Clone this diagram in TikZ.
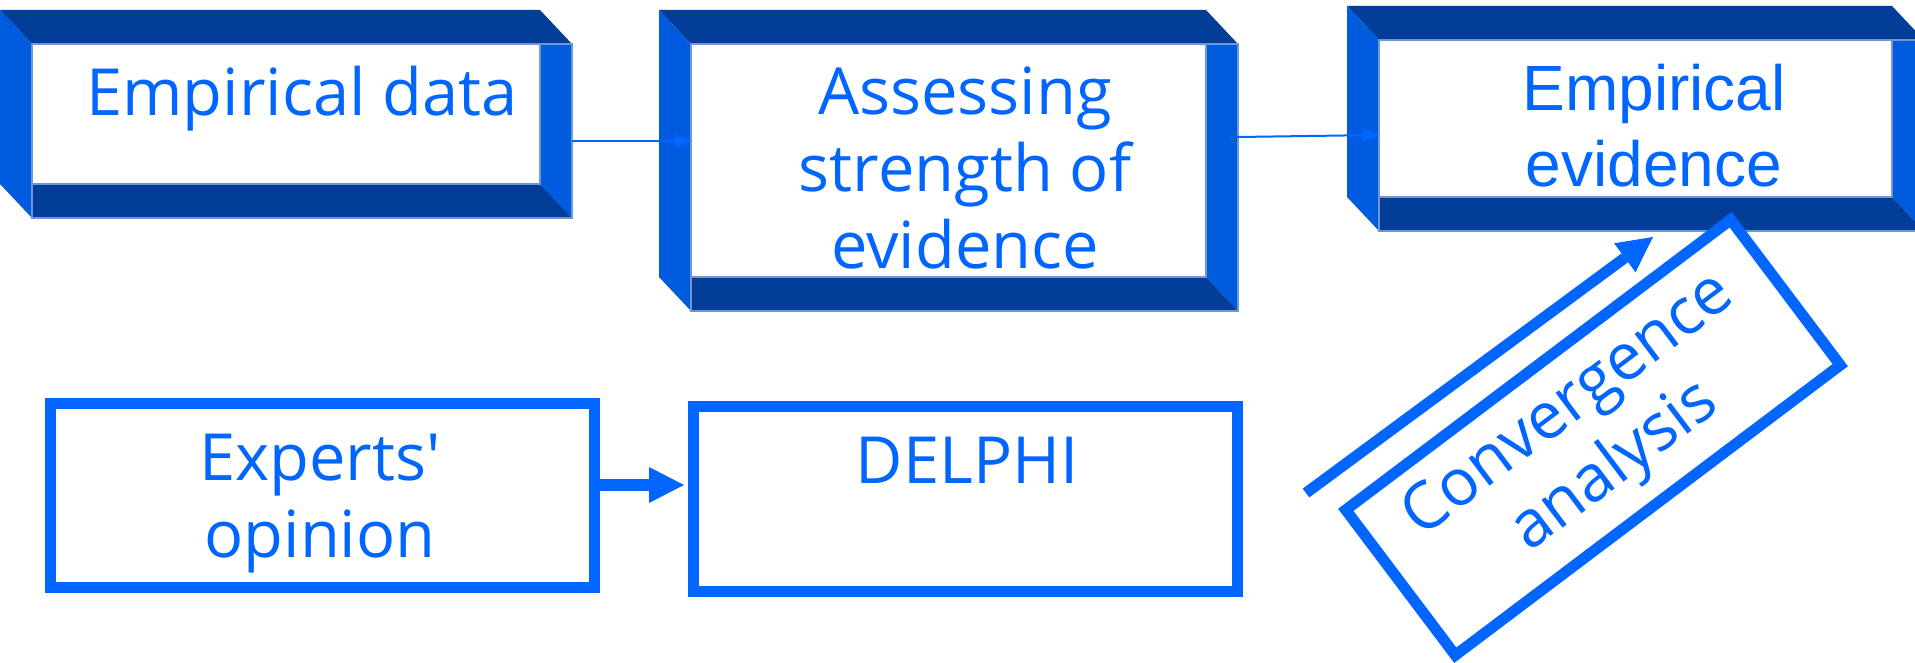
\documentclass[tikz,border=0pt]{standalone}
\usepackage{fontspec}
\usetikzlibrary{arrows.meta}

\newfontfamily\handfont{Open Sans}
\newfontfamily\arialfont{Liberation Sans}

\definecolor{bandDark}{HTML}{023D98}
\definecolor{bandSide}{HTML}{005BDF}
\definecolor{inkBlue}{HTML}{0066FF}
\definecolor{rimBlue}{HTML}{6F97D2}

% centred stack of lines whose baseline is the first line
\newcommand\linesof[1]{\begin{tabular}[t]{@{}c@{}}#1\end{tabular}}

% raised frame: name, back-left x, top y, front-right x, bottom y
\newcommand\bevelbox[5]{%
  \fill[bandDark] (#2,#3) -- (#4-32,#3) -- (#4,#3+34) -- (#2+32,#3+34) -- cycle;
  \fill[bandSide] (#2,#3) -- (#2+32,#3+34) -- (#2+32,#5) -- (#2,#5-34) -- cycle;
  \node[face, minimum width={#4-#2-32}, minimum height={#5-#3-34}]
    (#1) at ({(#2+32+#4)/2},{(#3+34+#5)/2}) {};
  \fill[bandSide] (#4-32,#3+34) -- (#4,#3+34) -- (#4,#5) -- (#4-32,#5-34) -- cycle;
  \fill[bandDark] (#2+32,#5-34) -- (#4-32,#5-34) -- (#4,#5) -- (#2+32,#5) -- cycle;
  \draw[rim] (#1.north west) rectangle (#1.south east);
  \draw[rim] (#2+32,#3+34) rectangle (#4-32,#5-34);
}

\tikzset{
  face/.style={fill=white, draw=none, inner sep=0pt, outer sep=0pt},
  rim/.style={draw=rimBlue, line width=1.2pt},
  hand/.style={font=\handfont\fontsize{65}{77}\selectfont, text=inkBlue, inner sep=0pt},
  plain/.style={font=\arialfont\fontsize{64}{76}\selectfont, text=inkBlue, inner sep=0pt},
  flatbox/.style={draw=inkBlue, line width=11pt, fill=white},
  thinarrow/.style={draw=inkBlue, line width=2pt,
    -{Triangle[width=14pt, length=16pt, line width=0pt]}},
  fatarrow/.style={draw=inkBlue, line width=11.5pt,
    -{Triangle[width=36pt, length=35pt, line width=0pt]}},
}

\begin{document}
\begin{tikzpicture}[x=1pt, y=-1pt]
  \useasboundingbox (0,0) rectangle (1915,663);

  % upper row of raised frames
  \bevelbox{ed}{0}{10}{572}{218}
  \bevelbox{as}{659}{10}{1238}{311}
  \bevelbox{ev}{1347}{6}{1924}{231}

  \node[hand, anchor=base] (ed-txt) at (302,116) {Empirical data};
  \node[hand, anchor=base] (as-txt) at (965,115)
    {\linesof{Assessing\\strength of\\evidence}};
  \node[plain, anchor=base] (ev-txt) at (1654,111)
    {\linesof{Empirical\\evidence}};

  % lower row
  \node[flatbox, minimum width=544, minimum height=184] (exp) at (322,495) {};
  \node[flatbox, minimum width=544, minimum height=185] (del) at (965,498.5) {};
  \node[hand, anchor=base] (exp-txt) at (320,480) {\linesof{Experts'\\opinion}};
  \node[hand, anchor=base] (del-txt) at (967,483) {DELPHI};

  % tilted box
  \node[flatbox, rotate=37, minimum width=482, minimum height=182,
        align=center, hand] (conv) at (1593,437.5) {Convergence\\analysis};

  % connectors
  \draw[thinarrow] ([yshift=-10pt]ed.east) -- ([yshift=36.5pt]as.west);
  \draw[thinarrow, shorten <=-9pt] ([yshift=40.5pt]as.east) -- ([yshift=0.5pt]ev.west);
  \draw[fatarrow, shorten >=3.5pt] ([yshift=10pt]exp.east) -- ([yshift=13.5pt]del.west);

  \coordinate (cv-tail) at (1306,493);
  \coordinate (cv-head) at (1653,237);
  \draw[fatarrow, line width=11pt] (cv-tail) -- (cv-head);
\end{tikzpicture}
\end{document}
